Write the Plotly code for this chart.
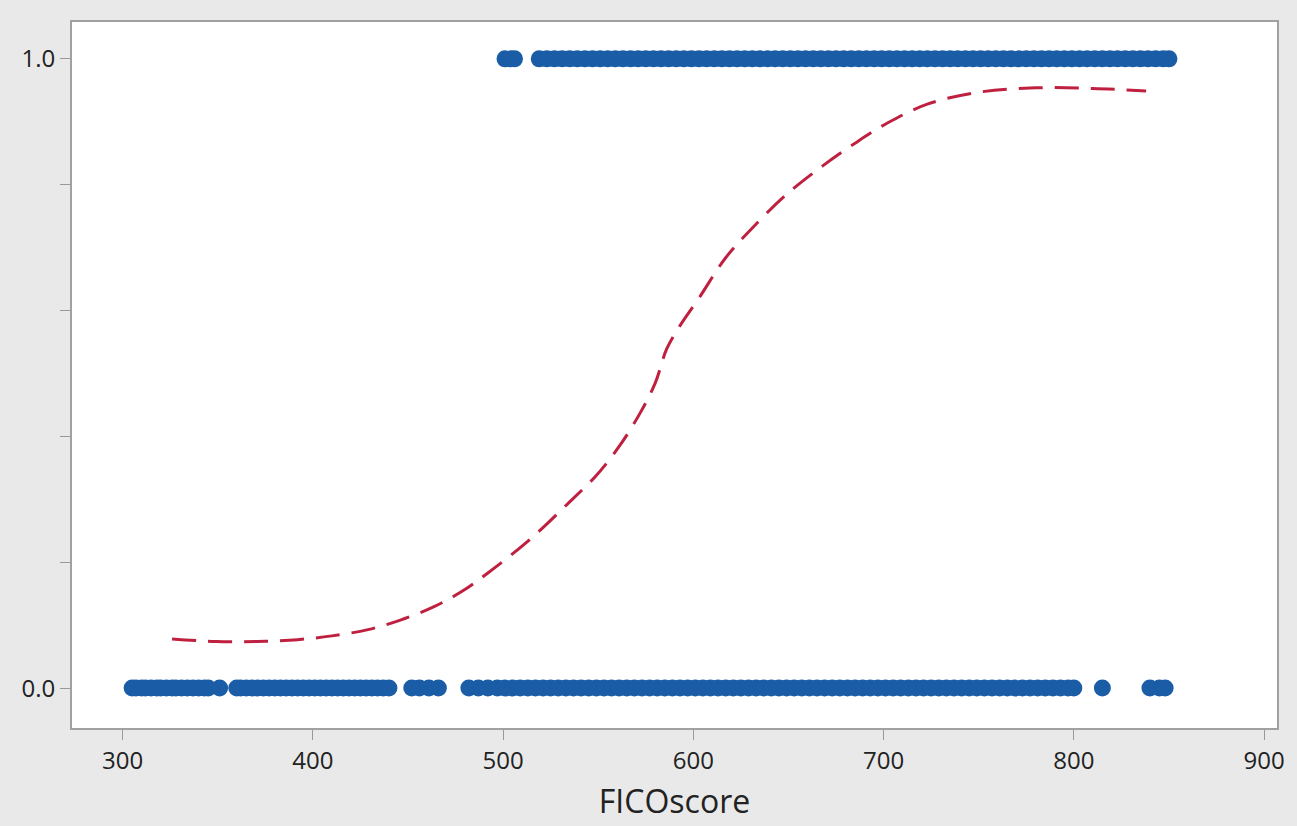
import plotly.graph_objects as go

fico_0 = [305, 307, 310, 312, 315, 318, 320, 323, 326, 328, 331, 334, 337, 340, 343, 345,
          351,
          360, 362, 365, 368, 371, 374, 377, 380, 383, 386, 389, 392, 395, 398, 401, 404,
          407, 410, 413, 416, 419, 422, 425, 428, 431, 434, 437, 440,
          452, 456, 461, 466,
          482, 487, 492,
          497, 501, 505, 509, 513, 517, 521, 525, 529, 533, 537, 541, 545, 549, 553, 557,
          561, 565, 569, 573, 577, 581, 585, 589, 593, 597, 601, 605, 609, 613, 617, 621,
          625, 629, 633, 637, 641, 645, 649, 653, 657, 661, 665, 669, 673, 677, 681, 685,
          689, 693, 697, 701, 705, 709, 713, 717, 721, 725, 729, 733, 737, 741, 745, 749,
          753, 757, 761, 765, 769, 773, 777, 781, 785, 789, 793, 797, 800,
          815,
          840, 845, 848]

# FICO scores observed with outcome 1
fico_1 = [501, 504, 506,
          519, 523, 527, 531, 535, 539, 543, 547, 551, 555, 559, 563, 567, 571, 575, 579,
          583, 587, 591, 595, 599, 603, 607, 611, 615, 619, 623, 627, 631, 635, 639, 643,
          647, 651, 655, 659, 663, 667, 671, 675, 679, 683, 687, 691, 695, 699, 703, 707,
          711, 715, 719, 723, 727, 731, 735, 739, 743, 747, 751, 755, 759, 763, 767, 771,
          775, 779, 783, 787, 791, 795, 799, 803, 807, 811, 815, 819, 823, 827, 831, 835,
          839, 843, 847, 850]

# fitted probability curve
fit_x = [326, 349, 371, 392, 410, 429, 446, 464, 478, 492, 514, 535, 549, 561, 572, 580,
         586, 593, 603, 617, 630, 648, 668, 685, 702, 723, 750, 780, 810, 838]
fit_y = [0.078, 0.074, 0.074, 0.077, 0.083, 0.093, 0.108, 0.130, 0.153, 0.183, 0.236, 0.296,
         0.338, 0.384, 0.437, 0.485, 0.539, 0.576, 0.620, 0.684, 0.728, 0.782, 0.830, 0.866,
         0.898, 0.928, 0.947, 0.954, 0.953, 0.949]

blue = "#1a5da6"
red = "#c0203f"

fig = go.Figure()
fig.add_trace(go.Scatter(
    x=fico_0, y=[0] * len(fico_0), mode="markers",
    marker=dict(color=blue, size=17, line=dict(width=0)), showlegend=False
))
fig.add_trace(go.Scatter(
    x=fico_1, y=[1] * len(fico_1), mode="markers",
    marker=dict(color=blue, size=17, line=dict(width=0)), showlegend=False
))
fig.add_trace(go.Scatter(
    x=fit_x, y=fit_y, mode="lines", line_shape="spline",
    line=dict(color=red, width=3, dash="24px,12px"), showlegend=False
))

fig.update_layout(
    width=1297, height=826,
    margin=dict(l=72, r=12, t=22, b=96),
    paper_bgcolor="#e9e9e9", plot_bgcolor="white",
    font=dict(family="Open Sans, Noto Sans, sans-serif", color="#222"),
    xaxis=dict(
        range=[273.4, 906.8], tickvals=[300, 400, 500, 600, 700, 800, 900],
        ticks="outside", ticklen=10, tickcolor="#999", tickfont=dict(size=24),
        showgrid=False, zeroline=False, showline=True, linecolor="#a0a0a0", linewidth=2,
        mirror=True,
        title=dict(text="FICOscore", font=dict(size=32), standoff=16)
    ),
    yaxis=dict(
        range=[-0.0634, 1.0586], tickvals=[0, 0.2, 0.4, 0.6, 0.8, 1.0],
        ticktext=["0.0", "", "", "", "", "1.0"],
        ticks="outside", ticklen=10, tickcolor="#999", tickfont=dict(size=24),
        showgrid=False, zeroline=False, showline=True, linecolor="#a0a0a0", linewidth=2,
        mirror=True
    )
)

# page margin off so the full-size figure sits at the window corner
fig.write_html("out.html", config={"displayModeBar": False},
               post_script="document.body.style.margin='0';")
